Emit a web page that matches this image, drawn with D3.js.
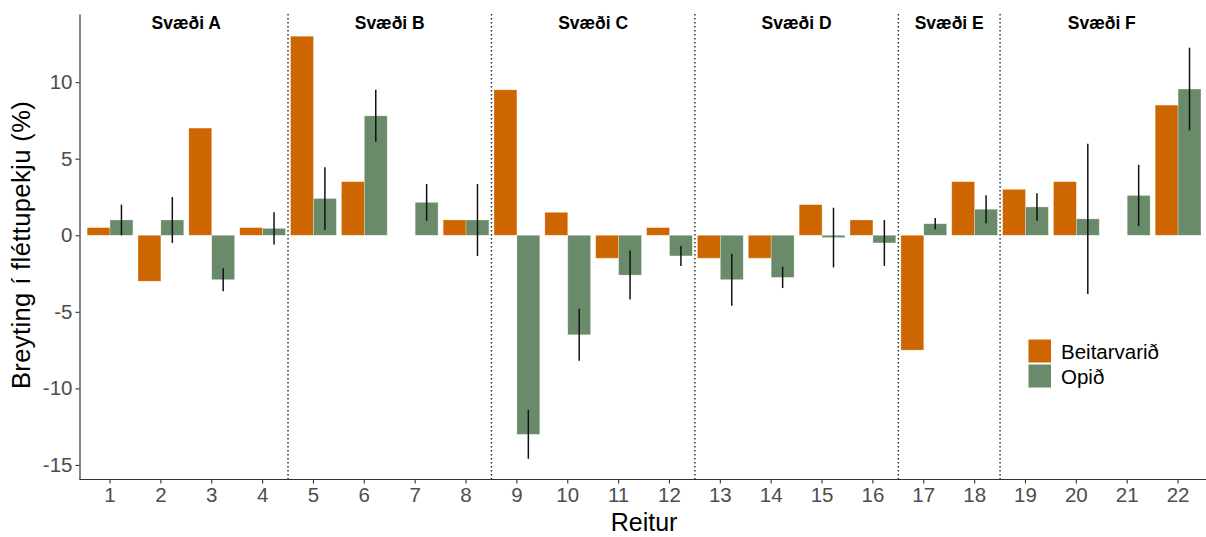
<!DOCTYPE html>
<html>
<head>
<meta charset="utf-8">
<script src="https://cdn.jsdelivr.net/npm/d3@7"></script>
<style>
  body { margin: 0; background: #fff; }
  text { font-family: "Liberation Sans", Arial, sans-serif; }
</style>
</head>
<body>
<div id="container"></div>
<script>
// reitir (plots) and the two treatments
var reitir = ["1","2","3","4","5","6","7","8","9","10","11","12","13","14","15","16","17","18","19","20","21","22"]
var beitarvarid = [0.5, -3, 7, 0.5, 13, 3.5, null, 1, 9.5, 1.5, -1.5, 0.5, -1.5, -1.5, 2, 1, -7.5, 3.5, 3, 3.5, null, 8.5]
var opid = [1, 1, -2.9, 0.45, 2.4, 7.8, 2.15, 1, -13, -6.5, -2.6, -1.35, -2.9, -2.75, -0.15, -0.5, 0.75, 1.7, 1.85, 1.07, 2.6, 9.55]
var opidSe = [1, 1.5, 0.75, 1.05, 2.05, 1.7, 1.2, 2.35, 1.6, 1.7, 1.6, 0.65, 1.7, 0.7, 1.95, 1.5, 0.37, 0.92, 0.9, 4.9, 2.0, 2.7]

var svaedi = ["Svæði A", "Svæði B", "Svæði C", "Svæði D", "Svæði E", "Svæði F"]
var svaediFra = ["1", "5", "9", "13", "17", "19"]
var svaediTil = ["4", "8", "12", "16", "18", "22"]

var yTicks = [-15, -10, -5, 0, 5, 10]
var medferd = ["Beitarvarið", "Opið"]
var colors = ["#CD6600", "#698B69"]

var width = 1206, height = 537
var pLeft = 79.5, pTop = 14, pBottom = 479.5

var svg = d3.select("#container").append("svg")
    .attr("width", width)
    .attr("height", height)

svg.append("rect").attr("width", width).attr("height", height).attr("fill", "#fff")

var step = 50.86
var x = d3.scaleBand()
    .domain(reitir)
    .range([pLeft, pLeft + step * 22.2])
    .paddingInner(0.1)
    .paddingOuter(0.15)

var x1 = d3.scaleBand()
    .domain(medferd)
    .range([0, x.bandwidth()])

var y = d3.scaleLinear()
    .domain([-15.95, 14.45])
    .range([pBottom, pTop])

var rows = reitir.map(function(r, i) {
  return { reitur: r, b: beitarvarid[i], o: opid[i], se: opidSe[i] }
})

// dotted dividers between areas
var dividers = svaediTil.slice(0, 5)
svg.append("g").selectAll("line")
  .data(dividers)
  .enter().append("line")
    .attr("x1", (d) => x(d) + x.step() - (x.step() - x.bandwidth()) / 2)
    .attr("x2", (d) => x(d) + x.step() - (x.step() - x.bandwidth()) / 2)
    .attr("y1", pTop)
    .attr("y2", pBottom)
    .attr("stroke", "#222")
    .attr("stroke-width", 1.4)
    .attr("stroke-dasharray", "1.4,2.6")

// bars
var grp = svg.append("g")
grp.selectAll("rect.b")
  .data(rows.filter((d) => d.b != null))
  .enter().append("rect")
    .attr("class", "b")
    .attr("x", (d) => x(d.reitur) + x1("Beitarvarið"))
    .attr("width", x1.bandwidth())
    .attr("y", (d) => y(Math.max(0, d.b)))
    .attr("height", (d) => Math.abs(y(d.b) - y(0)))
    .attr("fill", colors[0])
    .attr("stroke", "#fff")
    .attr("stroke-opacity", 0.4)
    .attr("stroke-width", 0.7)

grp.selectAll("rect.o")
  .data(rows)
  .enter().append("rect")
    .attr("class", "o")
    .attr("x", (d) => x(d.reitur) + x1("Opið"))
    .attr("width", x1.bandwidth())
    .attr("y", (d) => y(Math.max(0, d.o)))
    .attr("height", (d) => Math.abs(y(d.o) - y(0)))
    .attr("fill", colors[1])
    .attr("stroke", "#fff")
    .attr("stroke-opacity", 0.4)
    .attr("stroke-width", 0.7)

// error bars on Opið
svg.append("g").selectAll("line")
  .data(rows)
  .enter().append("line")
    .attr("x1", (d) => x(d.reitur) + x1("Opið") + x1.bandwidth() / 2)
    .attr("x2", (d) => x(d.reitur) + x1("Opið") + x1.bandwidth() / 2)
    .attr("y1", (d) => y(d.o + d.se))
    .attr("y2", (d) => y(d.o - d.se))
    .attr("stroke", "#111")
    .attr("stroke-width", 1.5)

// area labels
svg.append("g").selectAll("text")
  .data(svaedi)
  .enter().append("text")
    .attr("x", (d, i) => (x(svaediFra[i]) + x(svaediTil[i]) + x.bandwidth()) / 2)
    .attr("y", 29)
    .attr("text-anchor", "middle")
    .attr("font-size", 17.5)
    .attr("font-weight", "bold")
    .attr("fill", "#000")
    .text((d) => d)

// axes
var xAxis = svg.append("g")
    .attr("transform", "translate(0," + pBottom + ")")
    .call(d3.axisBottom(x).tickSize(4).tickPadding(4).tickSizeOuter(0))
var yAxis = svg.append("g")
    .attr("transform", "translate(" + pLeft + ",0)")
    .call(d3.axisLeft(y).tickValues(yTicks).tickFormat((d) => String(d))
      .tickSize(4).tickPadding(3).tickSizeOuter(0))

;[xAxis, yAxis].forEach(function(a) {
  a.select(".domain").attr("stroke", "#333").attr("stroke-width", 1.2)
  a.selectAll(".tick line").attr("stroke", "#333").attr("stroke-width", 1.1)
  a.selectAll(".tick text")
    .attr("fill", "#4D4D4D")
    .attr("font-size", 20.5)
    .attr("font-family", "Liberation Sans, Arial, sans-serif")
})
xAxis.select(".domain").attr("d", "M" + pLeft + ",0H" + width)

// axis titles
svg.append("text")
    .attr("x", (pLeft + pLeft + step * 22.2) / 2)
    .attr("y", 531)
    .attr("text-anchor", "middle")
    .attr("font-size", 25)
    .attr("fill", "#000")
    .text("Reitur")

svg.append("text")
    .attr("transform", "translate(30,245) rotate(-90)")
    .attr("text-anchor", "middle")
    .attr("font-size", 25.5)
    .attr("letter-spacing", 0.4)
    .attr("fill", "#000")
    .text("Breyting í fléttupekju (%)")

// legend
var legend = svg.append("g")
    .attr("transform", "translate(1028,339)")
var items = legend.selectAll("g")
  .data(medferd)
  .enter().append("g")
    .attr("transform", (d, i) => "translate(0," + (i * 25) + ")")
items.append("rect")
    .attr("width", 23.5)
    .attr("height", 24)
    .attr("fill", (d, i) => colors[i])
    .attr("stroke", "#fff")
    .attr("stroke-width", 1)
items.append("text")
    .attr("x", 33)
    .attr("y", 20)
    .attr("font-size", 20.5)
    .attr("fill", "#000")
    .text((d) => d)
</script>
</body>
</html>
